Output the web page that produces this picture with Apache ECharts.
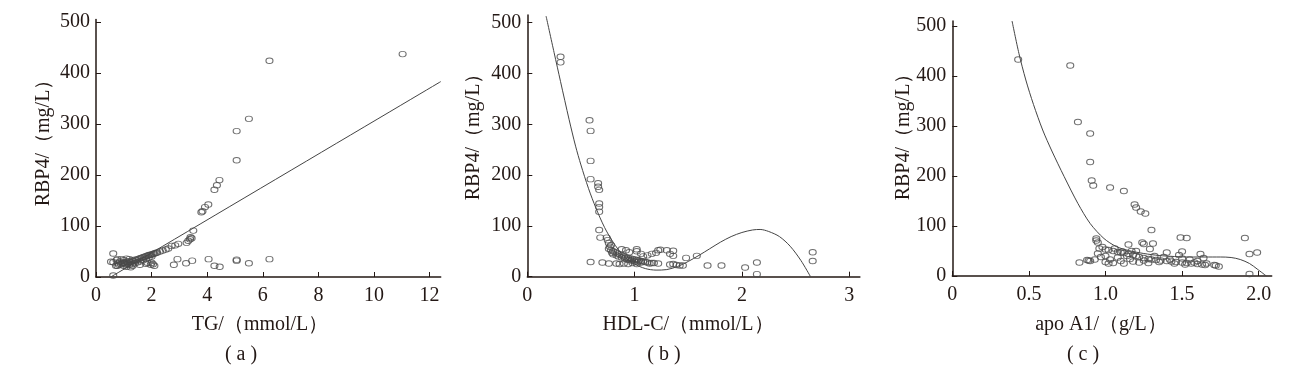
<!DOCTYPE html>
<html>
<head>
<meta charset="utf-8">
<script src="https://cdn.jsdelivr.net/npm/echarts@6/dist/echarts.min.js"></script>
<style>
html,body{margin:0;padding:0;background:#fff;}
#chart{width:1290px;height:369px;}
</style>
</head>
<body>
<div id="chart"></div>
<script>
// ---- tick labels ----
const rbpTicks = [0, 100, 200, 300, 400, 500];
const tgTicks = [0, 2, 4, 6, 8, 10, 12];
const hdlTicks = [0, 1, 2, 3];
const apoTicks = [0, 0.5, 1.0, 1.5, 2.0];

// ---- titles ----
const yTitle = 'RBP4/（mg/L）';
const xTitles = ['TG/（mmol/L）', 'HDL-C/（mmol/L）', 'apo A1/（g/L）'];
const captions = ['( a )', '( b )', '( c )'];

// ---- panel (a): TG vs RBP4 ----
const tgX = [11.03,6.24,5.50,5.06,5.06,4.44,4.35,4.26,4.04,3.92,3.79,3.83,3.50,3.44,3.38,3.40,3.32,3.26,2.96,2.85,2.72,2.60,2.51,2.40,2.30,
  0.62,0.62,0.62,2.93,2.80,3.24,3.46,4.05,4.26,4.45,5.06,5.06,5.50,6.24,1.58,1.80,1.97,2.10,2.00,2.05,0.77,0.96,1.10,0.77,0.92,0.85,0.80,1.25,1.20,1.85,
  0.90,1.00,1.05,1.10,1.15,1.20,1.25,1.30,1.35,1.40,1.45,1.50,1.55,1.60,1.65,1.70,1.75,1.80,1.85,1.90,1.95,2.00,2.05,2.10,2.15,2.20,
  1.00,1.10,1.30,1.40,1.50,1.60,1.70,1.80,1.90,2.00,1.20,1.00,1.10,0.74,0.54,1.02,1.32,0.72,0.82];
const tgY = [437,424,310,286,229,190,180,171,142,137,127,129,91,76,74,78,71,67,65,62,61,56,54,52,50,
  46,29,3,35,24,27,32,35,22,20,32,34,27,35,24,26,24,22,28,25,22,27,20,35,35,30,27,19,24,28,
  25,28,26,30,27,31,29,33,31,34,33,35,36,37,38,39,40,41,42,43,43,44,45,46,47,48,
  22,24,25,27,29,31,33,36,38,40,35,33,36,33,30,28,22,22,24];
const tgFitX = [0.53, 12.4];
const tgFitY = [0, 383];

// ---- panel (b): HDL-C vs RBP4 ----
const hdlX = [0.31,0.31,0.58,0.59,0.59,0.59,0.66,0.66,0.67,0.67,0.67,0.67,0.67,0.68,0.74,0.75,0.76,0.77,0.78,
  0.80,0.82,0.84,0.86,0.88,0.90,0.92,0.94,0.96,0.98,1.00,1.02,1.04,1.06,1.08,1.10,0.80,0.83,0.85,0.88,0.91,0.93,0.95,0.97,1.00,1.03,1.06,0.78,0.76,0.79,
  0.59,0.70,0.76,0.83,0.86,0.90,0.94,0.98,1.02,0.92,1.02,1.02,1.06,1.12,1.16,1.20,1.22,1.24,1.30,1.36,1.36,1.33,1.48,1.58,1.14,1.18,1.22,1.33,1.36,1.39,1.42,1.45,
  1.68,1.81,2.03,2.14,2.14,2.66,2.66,0.88,0.95,1.08,1.12,1.16];
const hdlY = [433,422,308,287,228,192,184,177,171,144,137,128,92,77,77,72,66,59,52,
  50,48,46,44,42,40,38,37,36,35,34,33,32,31,30,29,44,42,40,38,36,34,33,32,30,29,28,62,55,47,
  29,28,26,26,25,26,25,27,25,52,54,50,45,42,45,47,52,53,52,51,41,45,37,41,26,27,26,24,25,23,22,22,
  22,22,18,28,5,48,31,54,48,40,28,27];
const hdlFitX = [0.175,0.25,0.31,0.39,0.45,0.50,0.57,0.64,0.72,0.80,0.90,1.00,1.10,1.20,1.30,1.40,1.50,1.60,1.70,1.80,1.90,2.00,2.10,2.17,2.25,2.35,2.45,2.55,2.64];
const hdlFitY = [513,441,384,309,257,220,174,135,97,68,40,25,16,13,14,20,30,42,55,68,79,87,92,93,89,79,60,32,0];

// ---- panel (c): apo A1 vs RBP4 ----
const apoX = [0.43,0.77,0.82,0.90,0.90,0.91,0.92,1.03,1.12,1.19,1.20,1.23,1.26,1.30,1.31,1.25,1.24,1.15,1.49,1.53,1.91,1.94,1.99,1.94,0.94,0.94,0.95,0.83,0.88,0.89,0.90,1.29,1.50,1.62,1.71,1.72,1.74,
  0.96,1.00,1.02,1.05,1.08,1.10,1.12,1.15,1.18,1.20,1.22,1.25,1.28,1.30,1.33,1.36,1.40,1.43,1.46,1.50,1.53,1.56,1.60,1.63,1.65,
  0.95,0.97,0.93,1.00,1.02,1.05,1.08,1.10,1.12,1.14,1.16,1.18,1.20,1.22,1.25,1.28,1.32,1.35,1.38,1.40,1.42,1.45,1.48,1.50,1.52,1.55,1.58,1.60,1.64,1.66,1.06,1.11,1.17,0.98,1.00,1.03];
const apoY = [433,421,308,285,228,191,181,177,170,143,137,129,125,92,65,64,67,63,77,76,76,44,47,4,75,71,67,27,32,31,30,54,49,44,22,21,19,
  55,53,52,50,48,47,46,44,42,40,38,36,34,33,32,31,30,29,28,27,26,25,24,23,22,
  45,38,33,28,25,26,37,30,25,40,34,29,50,27,31,26,40,28,38,47,33,25,42,35,23,33,27,30,36,25,55,49,50,58,40,33];
const apoFitX = [0.39,0.435,0.48,0.53,0.59,0.65,0.73,0.82,0.90,0.99,1.07,1.15,1.25,1.35,1.45,1.55,1.65,1.75,1.82,1.88,1.94,1.99,2.05];
const apoFitY = [510,445,392,343,292,250,199,145,105,75,59,51,45,41,39,38,38,38,37,33,25,14,0];

const zip = (xs, ys) => xs.map((x, i) => [x, ys[i]]);

const ink = '#231815';
const serif = '"Liberation Serif","Times New Roman",serif';
const grids = [
  {left: 96, top: 19.4, width: 344.7, height: 257.6},
  {left: 527.3, top: 15.1, width: 332.6, height: 261.6},
  {left: 952.3, top: 21, width: 319.4, height: 255}
];
const xMax = [12.4, 3.1, 2.085];
const yMax = [505, 515, 510];
const xTickSets = [tgTicks, hdlTicks, apoTicks];

function xAxisFor(i) {
  return {
    type: 'value', gridIndex: i, min: 0, max: xMax[i],
    splitLine: {show: false},
    axisLine: {show: true, lineStyle: {color: ink, width: 1.5}},
    axisTick: {show: true, inside: true, length: 5, lineStyle: {color: ink, width: 1}, customValues: xTickSets[i]},
    axisLabel: {
      customValues: xTickSets[i], color: ink, fontFamily: serif, fontSize: 20, margin: 9,
      formatter: v => (i === 2 && v !== 0) ? v.toFixed(1) : String(v)
    }
  };
}
function yAxisFor(i) {
  return {
    type: 'value', gridIndex: i, min: 0, max: yMax[i],
    splitLine: {show: false},
    axisLine: {show: true, lineStyle: {color: ink, width: 1.5}},
    axisTick: {show: true, inside: true, length: 5, lineStyle: {color: ink, width: 1}, customValues: rbpTicks},
    axisLabel: {customValues: rbpTicks, color: ink, fontFamily: serif, fontSize: 20, margin: 6}
  };
}

const scatterStyle = {color: 'rgba(0,0,0,0)', borderColor: '#4a4a4a', borderWidth: 1};
function scatter(i, data) {
  return {type: 'scatter', xAxisIndex: i, yAxisIndex: i, data: data, symbol: 'circle', symbolSize: [7, 5.5], itemStyle: scatterStyle, silent: true, z: 3};
}
function fit(i, data) {
  return {type: 'line', xAxisIndex: i, yAxisIndex: i, data: data, showSymbol: false, smooth: 0.3, lineStyle: {color: '#444', width: 1}, silent: true, clip: true, z: 2};
}

const xTitlePos = [[260, 325], [688, 325], [1101, 325]];
const capPos = [[241, 355], [664, 355], [1083, 355]];
const yTitlePos = [[44, 138], [474, 132], [904, 132]];
const graphics = [];
for (let i = 0; i < 3; i++) {
  graphics.push({type: 'text', x: xTitlePos[i][0], y: xTitlePos[i][1], style: {text: xTitles[i], fill: ink, font: '20px ' + serif, align: 'center', verticalAlign: 'middle'}});
  graphics.push({type: 'text', x: capPos[i][0], y: capPos[i][1], style: {text: captions[i], fill: ink, font: '20px ' + serif, align: 'center', verticalAlign: 'middle'}});
  graphics.push({type: 'text', x: yTitlePos[i][0], y: yTitlePos[i][1], rotation: Math.PI / 2, style: {text: yTitle, fill: ink, font: '20px ' + serif, align: 'center', verticalAlign: 'middle'}});
}

const chart = echarts.init(document.getElementById('chart'), null, {renderer: 'canvas'});
chart.setOption({
  animation: false,
  backgroundColor: '#fff',
  grid: grids,
  xAxis: [0, 1, 2].map(xAxisFor),
  yAxis: [0, 1, 2].map(yAxisFor),
  series: [
    fit(0, zip(tgFitX, tgFitY)), scatter(0, zip(tgX, tgY)),
    fit(1, zip(hdlFitX, hdlFitY)), scatter(1, zip(hdlX, hdlY)),
    fit(2, zip(apoFitX, apoFitY)), scatter(2, zip(apoX, apoY))
  ],
  graphic: graphics
});
</script>
</body>
</html>
